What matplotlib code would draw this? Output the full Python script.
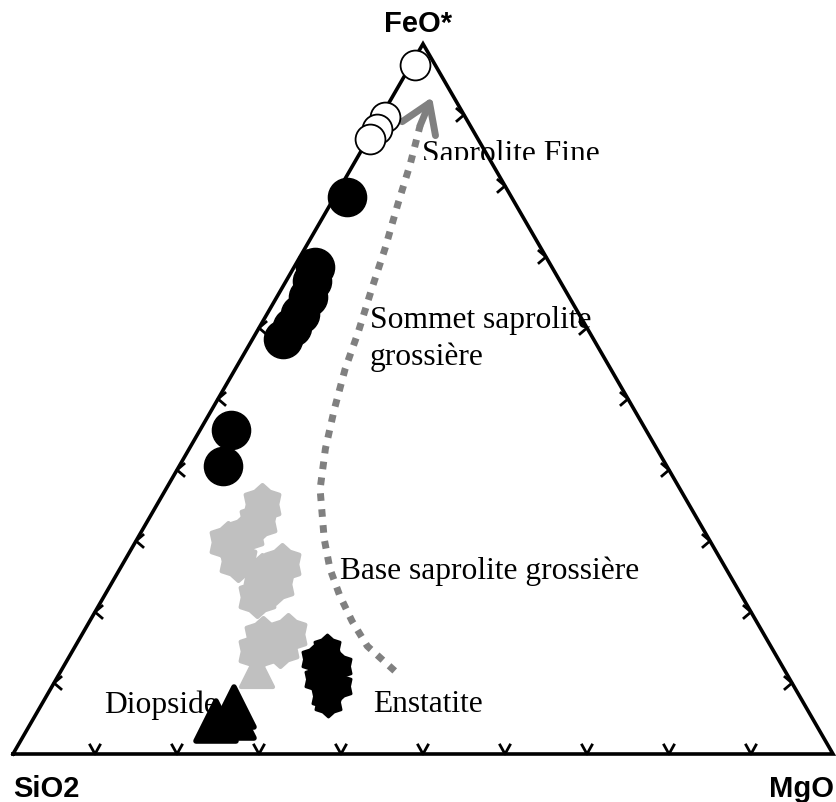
import numpy as np
import matplotlib.pyplot as plt
from matplotlib.path import Path
from matplotlib.markers import MarkerStyle
from matplotlib.transforms import Bbox, TransformedBbox

# compositions (%): FeO*, MgO, SiO2
fine_feo = [97.0, 89.7, 88.0, 86.6]
fine_mgo = [0.5, 0.5, 0.4, 0.2]
fine_sio2 = [2.5, 9.8, 11.6, 13.2]

top_feo = [78.5, 68.6, 66.6, 64.4, 62.0, 60.1, 58.5, 45.6, 40.6]
top_mgo = [1.5, 2.5, 3.2, 3.8, 4.0, 4.0, 3.7, 3.8, 5.3]
top_sio2 = [20.0, 28.9, 30.2, 31.8, 34.0, 35.9, 37.8, 50.6, 54.1]

base_feo = [35.2, 32.8, 29.9, 31.0, 27.2, 26.8, 25.4, 22.1, 23.9, 16.5, 16.9, 14.5, 15.1]
base_mgo = [12.8, 13.5, 11.3, 12.8, 13.8, 19.4, 17.7, 18.7, 20.0, 22.2, 25.1, 22.5, 25.0]
base_sio2 = [52.0, 53.7, 58.8, 56.2, 59.0, 53.8, 56.9, 59.2, 56.1, 61.3, 58.0, 63.0, 59.9]

base_tri_feo = [11.7]
base_tri_mgo = [23.9]
base_tri_sio2 = [64.4]

enst_feo = [14.8, 13.4, 12.4, 10.6, 9.6, 8.2, 7.3]
enst_mgo = [30.9, 30.1, 33.4, 31.9, 34.8, 34.0, 34.8]
enst_sio2 = [54.3, 56.5, 54.2, 57.5, 55.6, 57.8, 57.9]

diop_feo = [6.6, 4.6, 5.0]
diop_mgo = [23.6, 22.4, 24.5]
diop_sio2 = [69.8, 73.0, 70.5]

# weathering trend (FeO*, MgO)
trend_feo = [11.7, 15.2, 18.7, 22.3, 26.1, 30.3, 37.3, 43.0, 48.6, 54.2, 59.4,
             65.5, 71.1, 77.5, 83.1, 88.5]
trend_mgo = [40.7, 35.6, 32.0, 28.7, 25.6, 22.8, 18.8, 16.6, 14.9, 13.4, 12.4,
             11.0, 9.8, 8.2, 6.9, 5.4]
trend_tip = (92.5, 4.85)

ticks = [10, 20, 30, 40, 50, 60, 70, 80, 90]


def tern(feo, mgo):
    feo = np.asarray(feo, float) / 100
    mgo = np.asarray(mgo, float) / 100
    return mgo + feo / 2, feo * np.sqrt(3) / 2


PX = 820.0


def at(px, py):
    # pixel position -> axes data coords (label placement)
    return (px - 13) / PX, (755 - py) / PX


# scalloped 6-point marker
ang = np.deg2rad(np.arange(12) * 30 + 90)
rad = np.where(np.arange(12) % 2 == 0, 1.0, 0.76)
verts = np.c_[rad * np.cos(ang), rad * np.sin(ang)]
verts = np.vstack([verts, verts[:1]])
codes = [Path.MOVETO] + [Path.LINETO] * 11 + [Path.CLOSEPOLY]
star = MarkerStyle(Path(verts, codes), joinstyle='round')
tri = MarkerStyle('^', joinstyle='round')

fig = plt.figure(figsize=(8.36, 8.03), dpi=100)
ax = fig.add_axes([0, 0, 1, 1])
ax.set_xlim(-13 / PX, 823 / PX)
ax.set_ylim(-48 / PX, 755 / PX)
ax.axis('off')

# triangle frame
h = np.sqrt(3) / 2
ax.plot([0, 1, 0.5, 0], [0, 0, h, 0], color='black', lw=2.6, zorder=2,
        solid_joinstyle='miter')

# chevron ticks
d = 1 / PX
for t in ticks:
    f = t / 100
    ax.plot([f - 5 * d, f, f + 5 * d], [9 * d, 0, 9 * d], color='black', lw=2, zorder=2)
    lx, ly = f / 2, f * h
    ax.plot([lx + 7 * d, lx, lx + 7 * d], [ly + 6 * d, ly, ly - 6 * d], color='black', lw=2, zorder=2)
    rx, ry = 1 - f / 2, f * h
    ax.plot([rx - 7 * d, rx, rx - 7 * d], [ry + 6 * d, ry, ry - 6 * d], color='black', lw=2, zorder=2)

# trend arrow
tx, ty = tern(trend_feo, trend_mgo)
ax.plot(tx, ty, color='#808080', lw=5, dashes=(1.1, 1.2), dash_capstyle='butt', zorder=2)
hx, hy = tern([trend_tip[0]], [trend_tip[1]])
ax.annotate('', xy=(hx[0], hy[0]), xytext=(tx[-1], ty[-1]),
            arrowprops=dict(arrowstyle='->,head_length=1.0,head_width=0.65', lw=5,
                            color='#808080', mutation_scale=20, shrinkA=0, shrinkB=0),
            zorder=2)

# samples
x, y = tern(base_feo, base_mgo)
ax.plot(x, y, ls='none', marker=star, ms=28, mew=3, color='#c0c0c0', zorder=3)
x, y = tern(base_tri_feo, base_tri_mgo)
ax.plot(x, y, ls='none', marker=tri, ms=23, mew=3, color='#c0c0c0', zorder=3)
x, y = tern(enst_feo, enst_mgo)
ax.plot(x, y, ls='none', marker=star, ms=21, mew=2, color='black', zorder=3)
x, y = tern(diop_feo, diop_mgo)
ax.plot(x, y, ls='none', marker=tri, ms=29, mew=4, color='black', zorder=3)
x, y = tern(top_feo, top_mgo)
ax.plot(x, y, ls='none', marker='o', ms=27.5, color='black', zorder=3)
x, y = tern(fine_feo, fine_mgo)
ax.plot(x, y, ls='none', marker='o', ms=21.5, mfc='white', mec='black', mew=1.3, zorder=3)

# labels
serif = dict(family='Liberation Serif', fontsize=22.7, zorder=1, va='baseline')
sans = dict(family='Liberation Sans', fontsize=21, fontweight='bold')

t = ax.text(*at(422, 162), 'Saprolite Fine', **serif)
t.set_clip_box(TransformedBbox(Bbox([[-1, (755 - 161) / PX], [2, 2]]), ax.transData))
t.set_clip_on(True)
ax.text(*at(370, 328), 'Sommet saprolite', **serif)
ax.text(*at(370, 365), 'grossière', **serif)
ax.text(*at(340, 579), 'Base saprolite grossière', **serif)
ax.text(*at(373, 712), 'Enstatite', **serif)
ax.text(*at(104, 713), 'Diopside', **serif)

ax.text(*at(418, 32), 'FeO*', ha='center', va='baseline', **sans)
ax.text(*at(13, 797), 'SiO2', ha='left', va='baseline', **sans)
ax.text(*at(834, 797), 'MgO', ha='right', va='baseline', **sans)

fig.savefig('out.png', dpi=100)
